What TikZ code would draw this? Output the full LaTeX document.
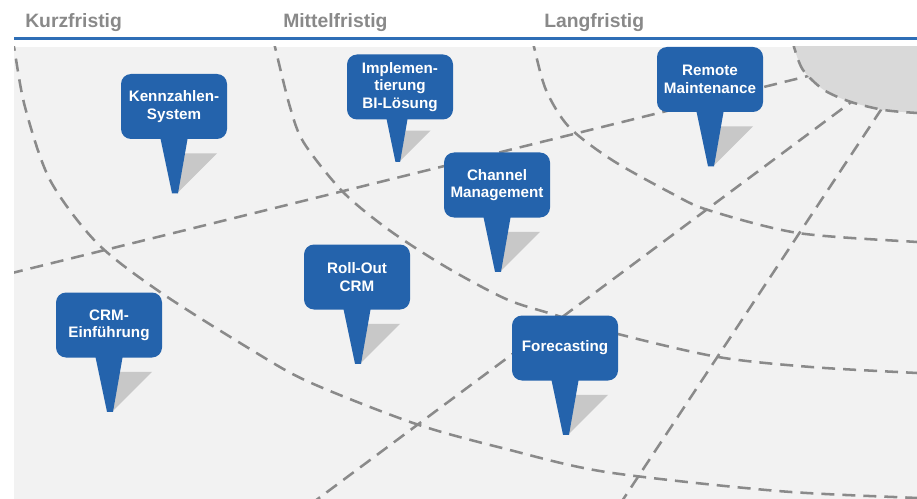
\documentclass[tikz,border=0pt]{standalone}
\usepackage{fontspec}
\setmainfont{Liberation Sans}
\usetikzlibrary{calc}
\definecolor{pinblue}{RGB}{36,99,172}
\definecolor{bgray}{RGB}{242,242,242}
\definecolor{regiongray}{RGB}{217,217,217}
\definecolor{dashgray}{RGB}{138,138,138}
\definecolor{shadowgray}{RGB}{200,200,200}
\definecolor{headgray}{RGB}{137,137,137}
\definecolor{lineblue}{RGB}{46,110,182}
\tikzset{
  pinbox/.style={fill=pinblue, rounded corners=7.5pt, minimum width=79.5pt, minimum height=48.75pt,
    inner sep=0pt, align=center, text=white, font=\bfseries\fontsize{11.4pt}{13pt}\selectfont},
  dashline/.style={draw=dashgray, line width=1.9pt, dash pattern=on 9.75pt off 6pt},
  header/.style={anchor=base west, text=headgray, font=\bfseries\fontsize{14.5pt}{17pt}\selectfont, inner sep=0pt},
}
\newcommand{\mypin}[3]{%
  \fill[shadowgray] ($(#1.south)+({#3+#2*8},{#2*14})$) -- ($(#1.south)+({#3+#2*43},{#2*14})$) -- ($(#1.south)+({#3+#2*3},{#2*54})$) -- cycle;
  \fill[pinblue] ($(#1.south)+({#3-#2*14},-3)$) -- ($(#1.south)+({#3+#2*14},-3)$) -- ($(#1.south)+({#3+#2*4},{#2*54})$) -- ($(#1.south)+({#3-#2*2},{#2*54})$) -- cycle;
}
\begin{document}
\begin{tikzpicture}[x=0.75pt,y=-0.75pt]
\useasboundingbox (0,0) rectangle (917,499);
\fill[bgray] (14,47) rectangle (917,499);
\begin{scope}
  \clip (14,47) rectangle (917,499);
  % radial lines
  \draw[dashline] (10,273.5) -- (830,70.6);
  \draw[dashline] (309.6,505) -- (880,80.6);
  \draw[dashline] (619.4,505) -- (900,81);
  % arcs
  \draw[dashline] plot[smooth] coordinates {(12,38) (14,47) (25,107) (50,180) (97,243) (160,292) (250,349) (309,382) (416,424) (506,449) (606,472) (778,491) (917,498) (930,499)};
  \draw[dashline] plot[smooth] coordinates {(273,38) (275,47) (290,107) (304,143) (343,192) (389,230) (446,267) (506,299) (552,314) (618,334) (718,357) (811,367) (917,373) (930,373.5)};
  \draw[dashline] plot[smooth] coordinates {(532,38) (534,47) (546,90) (569,127) (612,160) (671,193) (708,210) (798,233) (917,242) (930,242.5)};
  % inner region
  \fill[regiongray] plot[smooth] coordinates {(793,40) (794,47) (803,70) (824,90) (851,102) (884,110) (917,113) (930,113.5)} -- (930,40) -- cycle;
  \draw[dashline] plot[smooth] coordinates {(793,40) (794,47) (803,70) (824,90) (851,102) (884,110) (917,113) (930,113.5)};
\end{scope}
% pins
\node[pinbox] (kenn) at (174,106.5) {Kennzahlen-\\System};
\mypin{kenn}{1}{0}
\node[pinbox] (impl) at (400,87) {Implemen-\\tierung\\BI-Lösung};
\mypin{impl}{0.78}{-3}
\node[pinbox] (remote) at (710,79.5) {Remote\\Maintenance};
\mypin{remote}{1}{0}
\node[pinbox] (channel) at (497,185) {Channel\\Management};
\mypin{channel}{1}{0}
\node[pinbox] (rollout) at (357,277) {Roll-Out\\CRM};
\mypin{rollout}{1}{0}
\node[pinbox] (crm) at (109,325) {CRM-\\Einführung};
\mypin{crm}{1}{0}
\node[pinbox] (fore) at (565,348) {Forecasting};
\mypin{fore}{1}{0}
% header
\draw[lineblue, line width=2.25pt] (14,39) -- (917,39);
\node[header] (kurz) at (25,28) {Kurzfristig};
\node[header] (mittel) at (283,28) {Mittelfristig};
\node[header] (lang) at (544,28) {Langfristig};
\end{tikzpicture}
\end{document}
